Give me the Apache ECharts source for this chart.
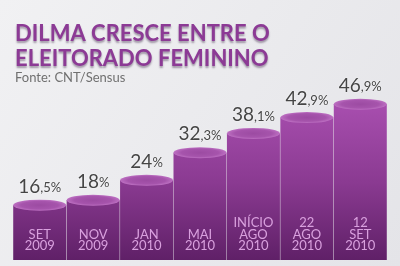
<!DOCTYPE html>
<html>
<head>
<meta charset="utf-8">
<script src="https://cdn.jsdelivr.net/npm/echarts@6/dist/echarts.min.js"></script>
<style>html,body{margin:0;padding:0;}#c{width:400px;height:266px;}</style>
</head>
<body>
<div id="c"></div>
<script>
const categories = ['SET\n2009', 'NOV\n2009', 'JAN\n2010', 'MAI\n2010', 'INÍCIO\nAGO\n2010', '22\nAGO\n2010', '12\nSET\n2010'];
const values = [16.5, 18, 24, 32.3, 38.1, 42.9, 46.9];
const titleText = 'DILMA CRESCE ENTRE O\nELEITORADO FEMININO';
const sourceText = 'Fonte: CNT/Sensus';

const chart = echarts.init(document.getElementById('c'), null, {renderer: 'canvas'});
const bodyColor = {
  type: 'linear', x: 0, y: 100, x2: 0, y2: 266, global: true,
  colorStops: [{offset: 0, color: '#a94fb0'}, {offset: 0.5, color: '#8a3a91'}, {offset: 1, color: '#5c1e64'}]
};
const topColor = {
  type: 'radial', x: 0.5, y: 0.5, r: 0.5,
  colorStops: [{offset: 0, color: '#9c4ba2'}, {offset: 0.7, color: '#a654ac'}, {offset: 1, color: '#bd70c2'}]
};
chart.setOption({
  backgroundColor: {
    type: 'linear', x: 0, y: 0, x2: 1, y2: 1,
    colorStops: [{offset: 0, color: '#f1f1f3'}, {offset: 1, color: '#e4e4e8'}]
  },
  title: {
    text: titleText,
    subtext: sourceText,
    left: 10, top: 16,
    itemGap: 0,
    textStyle: {
      fontFamily: 'Lato', fontWeight: 'bold', fontSize: 22, lineHeight: 25,
      color: '#8c3a95',
      textShadowColor: 'rgba(60,40,70,0.45)', textShadowBlur: 2, textShadowOffsetY: 2
    },
    subtextStyle: {
      fontFamily: 'Lato', fontSize: 13, color: '#707070', lineHeight: 14
    }
  },
  grid: {left: 13, right: 13, top: 68, bottom: 0},
  xAxis: {
    type: 'category', data: categories,
    axisLine: {show: false, onZero: false}, axisTick: {show: false}, splitLine: {show: false},
    axisLabel: {
      inside: true, margin: 14, color: '#d9a0de',
      fontFamily: 'Lato', fontSize: 13, lineHeight: 11.5, interval: 0
    },
    z: 10
  },
  yAxis: {type: 'value', min: -1.8, max: 57.8, show: false},
  series: [
    {
      type: 'bar', data: values, barWidth: 53,
      itemStyle: {color: bodyColor},
      label: {
        show: true, position: 'top', distance: 9,
        formatter: function (p) {
          const s = String(p.value).split('.');
          return s.length > 1 ? '{a|' + s[0] + '}{b|,' + s[1] + '%}' : '{a|' + s[0] + '}{b|%}';
        },
        rich: {
          a: {fontFamily: 'Lato', fontSize: 19, color: '#454545', textShadowColor: '#fff', textShadowBlur: 2},
          b: {fontFamily: 'Lato', fontSize: 13, color: '#454545', textShadowColor: '#fff', textShadowBlur: 2, padding: [3, 0, 0, 0]}
        }
      },
      z: 2
    },
    {
      type: 'pictorialBar', data: values, symbol: 'circle',
      symbolSize: [53, 11], symbolPosition: 'end', symbolOffset: [0, '-50%'],
      itemStyle: {color: topColor}, z: 3, silent: true
    }
  ]
});
</script>
</body>
</html>
